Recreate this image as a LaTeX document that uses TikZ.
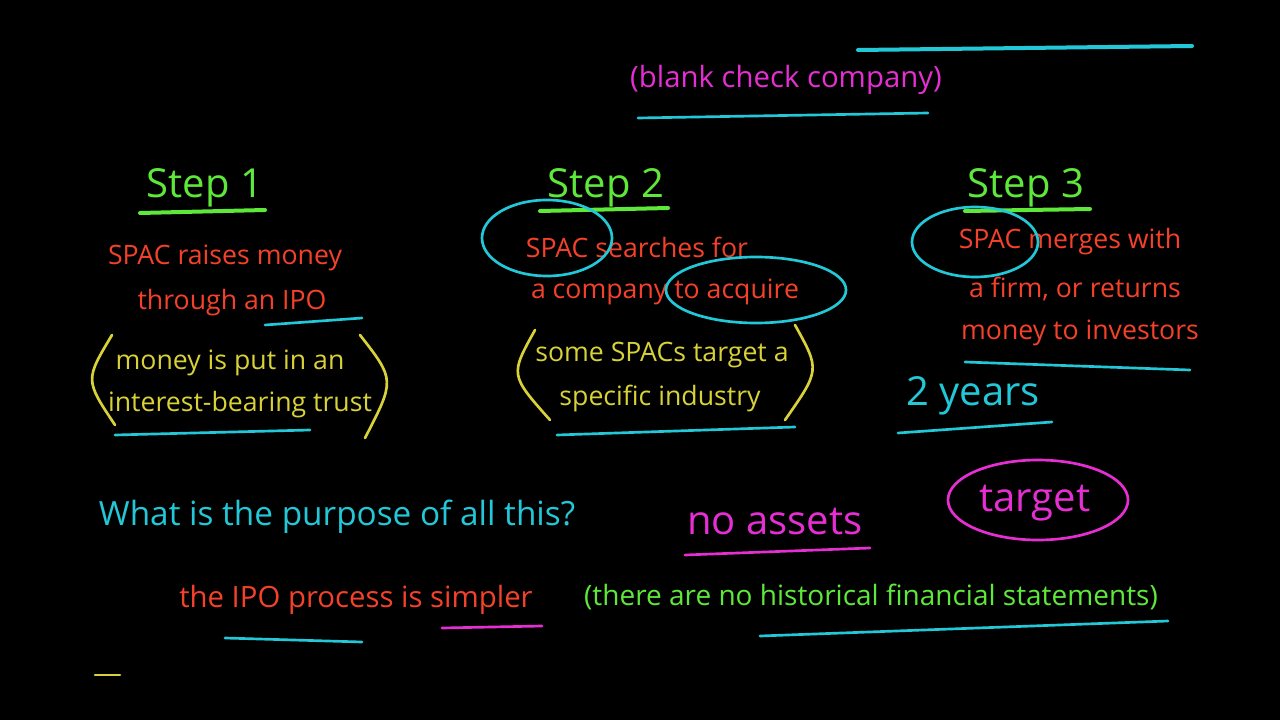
\documentclass[tikz,border=0pt]{standalone}
\usepackage{fontspec}
\setmainfont{Open Sans}
\definecolor{hg}{HTML}{5EE83A}
\definecolor{hr}{HTML}{F5412A}
\definecolor{hc}{HTML}{22C8D8}
\definecolor{hy}{HTML}{D8D238}
\definecolor{hm}{HTML}{E62ED2}
\begin{document}
\begin{tikzpicture}[x=0.75pt,y=-0.75pt,
  txt/.style={inner sep=0pt,font=\fontsize{20}{24}\selectfont},
  big/.style={inner sep=0pt,font=\fontsize{30}{34}\selectfont},
  ul/.style={line width=2pt,line cap=round}]
\fill[black] (0,0) rectangle (1280,720);
\useasboundingbox (0,0) rectangle (1280,720);
% top
\draw[ul,hc,line width=3pt] (858,50) -- (1192,46);
\node[txt,hm,font=\fontsize{22}{26}\selectfont] (bc) at (786,80) {(blank check company)};
\draw[ul,hc] (638,118) -- (928,113);
% steps
\node[big,hg] (s1) at (205,188) {Step 1};
\draw[ul,hg,line width=3pt] (140,213) -- (265,210);
\node[big,hg] (s2) at (606,188) {Step 2};
\draw[ul,hg,line width=3pt] (540,211) -- (668,208);
\node[big,hg] (s3) at (1026,188) {Step 3};
\draw[ul,hg,line width=3pt] (965,211) -- (1090,209);
% step 1
\node[txt,hr] (a1) at (225,258) {SPAC raises money};
\node[txt,hr] (a2) at (232,303) {through an IPO};
\draw[ul,hc] (265,325) -- (362,318);
\node[txt,hy] (a3) at (230,363) {money is put in an};
\node[txt,hy] (a4) at (240,405) {interest-bearing trust};
\draw[ul,hy] (112,335) .. controls (85,380) .. (115,425);
\draw[ul,hy] (360,335) .. controls (395,380) .. (365,438);
\draw[ul,hc] (115,435) -- (310,430);
% step 2
\node[txt,hr] (b1) at (637,247) {SPAC searches for};
\node[txt,hr] (b2) at (665,292) {a company to acquire};
\draw[ul,hc] (547,238) ellipse (65 and 38);
\draw[ul,hc] (756,290) ellipse (90 and 33);
\node[txt,hy] (b3) at (662,355) {some SPACs target a};
\node[txt,hy] (b4) at (660,398) {specific industry};
\draw[ul,hy] (535,330) .. controls (510,375) .. (550,420);
\draw[ul,hy] (795,325) .. controls (820,370) .. (785,420);
\draw[ul,hc] (557,435) -- (795,427);
% step 3
\node[txt,hr] (c1) at (1070,242) {SPAC merges with};
\node[txt,hr] (c2) at (1075,289) {a firm, or returns};
\node[txt,hr] (c3) at (1080,333) {money to investors};
\draw[ul,hc] (975,242) ellipse (63 and 35);
\draw[ul,hc] (965,362) -- (1190,370);
\node[big,hc] (c4) at (973,396) {2 years};
\draw[ul,hc] (898,433) -- (1052,422);
% bottom
\node[txt,hc,font=\fontsize{25}{29}\selectfont] (q) at (337,517) {What is the purpose of all this?};
\node[big,hm] (na) at (775,522) {no assets};
\draw[ul,hm] (685,555) -- (870,548);
\draw[ul,hm] (1038,500) ellipse (90 and 40);
\node[big,hm] (tg) at (1035,503) {target};
\node[txt,hr,font=\fontsize{22}{26}\selectfont] (p) at (356,600) {the IPO process is simpler};
\draw[ul,hc] (225,638) -- (362,642);
\draw[ul,hm] (442,628) -- (542,626);
\node[txt,hg,font=\fontsize{21}{25}\selectfont] (h) at (871,597) {(there are no historical financial statements)};
\draw[ul,hc] (760,636) -- (1168,621);
\draw[ul,hy] (95,675) -- (120,675);
\end{tikzpicture}
\end{document}
